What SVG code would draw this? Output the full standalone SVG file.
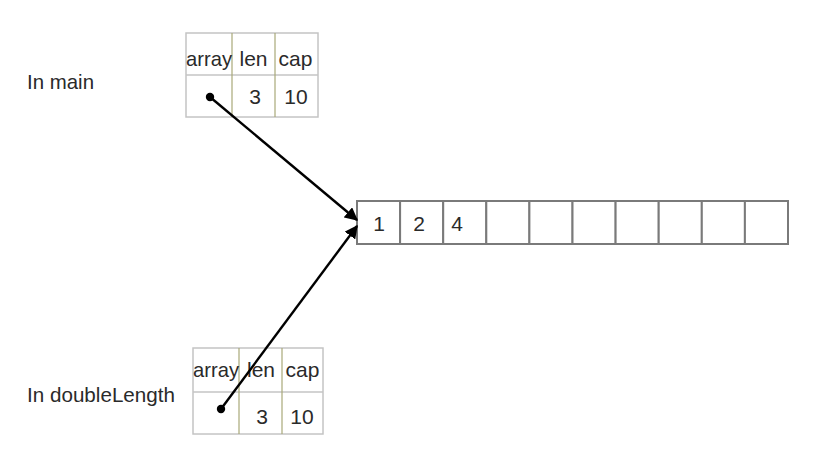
<svg xmlns="http://www.w3.org/2000/svg" width="813" height="452" viewBox="0 0 813 452">
<style>
text{font-family:"Liberation Sans",Arial,sans-serif;font-size:21px;fill:#2a2a2a}
.c{text-anchor:middle}
.tb{fill:#fff;stroke:#c4c4c4;stroke-width:1.5}
.sep{stroke:#a8a878;stroke-width:1.2}
.cell{fill:#fff;stroke:#7a7a7a;stroke-width:2}
.conn{stroke:#000;stroke-width:2.4;fill:none}
</style>
<defs>
<marker id="ah" viewBox="0 0 10 10" refX="9" refY="5" markerWidth="5.5" markerHeight="5.5" orient="auto" markerUnits="strokeWidth">
<path d="M0,0 L10,5 L0,10 z" fill="#000"/>
</marker>
</defs>
<rect width="813" height="452" fill="#fff"/>
<g id="label-main"><text x="27" y="89" textLength="67" lengthAdjust="spacingAndGlyphs">In main</text></g>
<g id="label-double"><text x="27" y="402" textLength="148" lengthAdjust="spacingAndGlyphs">In doubleLength</text></g>
<g id="slice-main">
<rect class="tb" x="186" y="33" width="132" height="84"/>
<line class="tb" x1="186" y1="75" x2="318" y2="75"/>
<line class="sep" x1="232" y1="33" x2="232" y2="117"/>
<line class="sep" x1="275" y1="33" x2="275" y2="117"/>
<text class="c" x="209" y="66" textLength="46" lengthAdjust="spacingAndGlyphs">array</text>
<text class="c" x="253.5" y="66">len</text>
<text class="c" x="295.5" y="66">cap</text>
<text class="c" x="255" y="104">3</text>
<text class="c" x="296" y="104">10</text>
</g>
<g id="slice-double">
<rect class="tb" x="193" y="348" width="130" height="86"/>
<line class="tb" x1="193" y1="392" x2="323" y2="392"/>
<line class="sep" x1="239" y1="348" x2="239" y2="434"/>
<line class="sep" x1="282" y1="348" x2="282" y2="434"/>
<text class="c" x="216" y="377" textLength="46" lengthAdjust="spacingAndGlyphs">array</text>
<text class="c" x="261" y="377">len</text>
<text class="c" x="302.5" y="377">cap</text>
<text class="c" x="262" y="424">3</text>
<text class="c" x="302" y="424">10</text>
</g>
<g id="array">
<rect class="cell" x="357" y="201" width="43.1" height="43"/>
<rect class="cell" x="400.1" y="201" width="43.1" height="43"/>
<rect class="cell" x="443.2" y="201" width="43.1" height="43"/>
<rect class="cell" x="486.3" y="201" width="43.1" height="43"/>
<rect class="cell" x="529.4" y="201" width="43.1" height="43"/>
<rect class="cell" x="572.5" y="201" width="43.1" height="43"/>
<rect class="cell" x="615.6" y="201" width="43.1" height="43"/>
<rect class="cell" x="658.7" y="201" width="43.1" height="43"/>
<rect class="cell" x="701.8" y="201" width="43.1" height="43"/>
<rect class="cell" x="744.9" y="201" width="43.1" height="43"/>
<text class="c" x="379" y="231">1</text>
<text class="c" x="419" y="231">2</text>
<text class="c" x="457" y="231">4</text>
</g>
<g id="connectors">
<circle cx="210" cy="97" r="4.2" fill="#000"/>
<line class="conn" x1="210" y1="97" x2="357" y2="220" marker-end="url(#ah)"/>
<circle cx="221" cy="409" r="4.2" fill="#000"/>
<line class="conn" x1="221" y1="409" x2="357" y2="226" marker-end="url(#ah)"/>
</g>
</svg>
